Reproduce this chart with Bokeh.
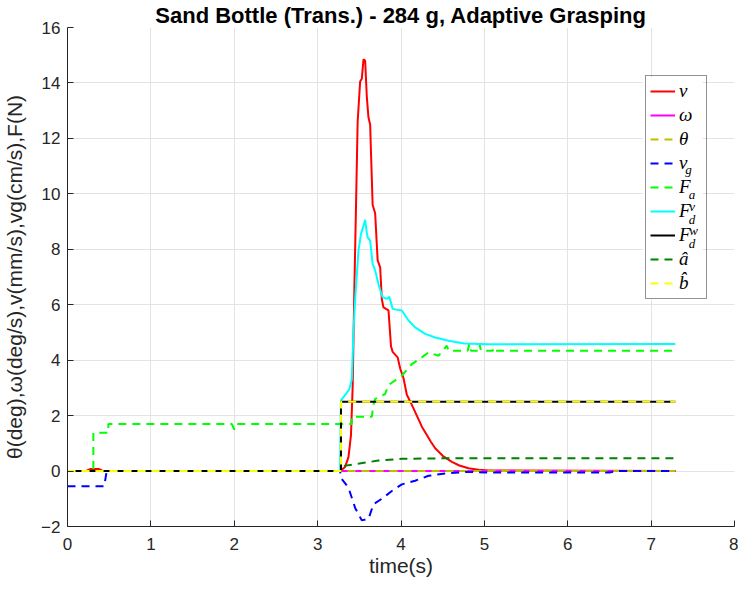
from bokeh.plotting import figure
from bokeh.models import Range1d, Legend, LegendItem, Label, BoxAnnotation
from bokeh.embed import file_html
from bokeh.resources import INLINE

# ---------------- data ----------------
t_v = [0, 0.22, 0.27, 0.38, 0.43, 3.27, 3.33, 3.37, 3.40, 3.42, 3.44, 3.46, 3.48,
       3.51, 3.53, 3.55, 3.57, 3.59, 3.61, 3.63, 3.64, 3.66, 3.69, 3.72, 3.75,
       3.77, 3.79, 3.85, 3.88, 3.90, 3.96, 3.99, 4.03, 4.07, 4.12, 4.19, 4.25,
       4.31, 4.36, 4.41, 4.50, 4.61, 4.70, 4.81, 4.93, 5.05, 7.29]
v = [0, 0, 0.07, 0.07, 0, 0, 0.15, 0.5, 1.3, 3.0, 6.5, 9.5, 12.6,
     14.05, 14.15, 14.85, 14.8, 13.5, 12.75, 12.5, 11.5, 9.6, 9.3, 7.6, 7.35,
     6.2, 5.9, 5.8, 4.5, 4.3, 4.1, 3.7, 3.35, 2.75, 2.45, 2.0, 1.6,
     1.3, 1.05, 0.82, 0.55, 0.33, 0.2, 0.1, 0.05, 0.02, 0]

t_w = [0, 7.29]
w = [0, 0]

t_theta = [0, 7.29]
theta = [0, 0]

t_vg = [0, 0.44, 0.47, 3.27, 3.28, 3.37, 3.45, 3.53, 3.61, 3.67, 3.77, 3.89,
        4.01, 4.17, 4.33, 4.53, 4.80, 5.00, 6.50, 6.60, 7.29]
vg = [-0.55, -0.55, 0, 0, -0.25, -0.6, -1.33, -1.78, -1.72, -1.2, -1.0, -0.72,
      -0.48, -0.35, -0.17, -0.09, -0.03, -0.05, -0.05, 0, 0]

t_fa = [0, 0.31, 0.31, 0.49, 0.49, 1.97, 2.00, 2.03, 3.41, 3.41, 3.65, 3.67,
        3.69, 3.81, 3.85, 4.01, 4.13, 4.25, 4.33, 4.45, 4.55, 4.57, 4.80, 4.82,
        4.84, 4.92, 4.94, 4.96, 5.10, 5.12, 5.14, 7.29]
fa = [0, 0, 1.38, 1.38, 1.70, 1.70, 1.5, 1.70, 1.70, 1.96, 1.96, 2.4,
      2.6, 2.78, 3.1, 3.44, 3.86, 4.1, 4.28, 4.16, 4.52, 4.34, 4.34, 4.6,
      4.34, 4.34, 4.6, 4.34, 4.34, 4.46, 4.34, 4.34]

t_fdv = [0, 3.27, 3.28, 3.33, 3.38, 3.41, 3.43, 3.45, 3.49, 3.52, 3.55, 3.57,
         3.59, 3.60, 3.63, 3.66, 3.69, 3.74, 3.78, 3.83, 3.86, 3.90, 3.97, 4.01,
         4.09, 4.17, 4.29, 4.41, 4.57, 4.76, 5.04, 7.29]
fdv = [0, 0, 2.55, 2.75, 2.95, 3.3, 5.0, 6.2, 7.95, 8.55, 8.85, 9.06,
       8.6, 8.43, 8.31, 7.47, 7.23, 6.63, 6.27, 6.21, 6.29, 5.85, 5.81, 5.79,
       5.43, 5.18, 4.95, 4.82, 4.7, 4.6, 4.57, 4.58]

t_fdw = [0, 3.28, 3.28, 7.29]
fdw = [0, 0, 2.5, 2.5]

t_ahat = [0, 3.28, 3.30, 3.50, 3.73, 4.01, 4.50, 7.29]
ahat = [0, 0, 0.18, 0.27, 0.38, 0.44, 0.46, 0.46]

t_bhat = [0, 3.28, 3.28, 7.29]
bhat = [0, 0, 2.5, 2.5]

x_ticks = [0, 1, 2, 3, 4, 5, 6, 7, 8]
y_ticks = [-2, 0, 2, 4, 6, 8, 10, 12, 14, 16]

# ---------------- figure ----------------
W, H = 738, 591
FL, FR, FT, FB = 64, 734, 27, 526   # frame edges (pixels)

p = figure(width=W, height=H, x_range=Range1d(0, 8), y_range=Range1d(-2, 16),
           output_backend="svg", toolbar_location=None,
           min_border_left=FL, min_border_right=W - FR,
           min_border_top=FT, min_border_bottom=H - FB)
p.outline_line_color = None
p.background_fill_color = "white"
p.border_fill_color = "white"

p.title.text = "Sand Bottle (Trans.) - 284 g, Adaptive Grasping"
p.title.align = "center"
p.title.text_font = "Liberation Sans"
p.title.text_font_style = "bold"
p.title.text_font_size = "22px"
p.title.text_color = "black"
p.title.standoff = 0

TICK_COLOR = "#262626"
for ax in (p.xaxis[0], p.yaxis[0]):
    ax.major_tick_in = 6
    ax.major_tick_out = 0
    ax.minor_tick_in = 0
    ax.minor_tick_out = 0
    ax.axis_line_color = TICK_COLOR
    ax.major_tick_line_color = TICK_COLOR
    ax.major_label_text_color = TICK_COLOR
    ax.major_label_text_font = "Liberation Sans"
    ax.major_label_text_font_size = "17px"
    ax.axis_label_text_font = "Liberation Sans"
    ax.axis_label_text_font_size = "21px"
    ax.axis_label_text_font_style = "normal"
    ax.axis_label_text_color = TICK_COLOR

p.xaxis.ticker = x_ticks
p.yaxis.ticker = y_ticks
p.xaxis.axis_label = "time(s)"
p.yaxis.axis_label = "θ(deg),ω(deg/s),v(mm/s),vg(cm/s),F(N)"
p.xaxis.major_label_standoff = 11
p.xaxis.axis_label_standoff = 1
p.yaxis.major_label_standoff = 7
p.yaxis.axis_label_standoff = 12

p.xgrid.grid_line_color = "#e3e3e3"
p.ygrid.grid_line_color = "#e3e3e3"
p.xgrid.ticker = x_ticks
p.ygrid.ticker = y_ticks

LW = 2
DASH = "8 6"
r_v = p.line(t_v, v, line_color="#FF0000", line_width=LW)
r_w = p.line(t_w, w, line_color="#FF00FF", line_width=LW)
r_th = p.line(t_theta, theta, line_color="#BFBF00", line_width=LW, line_dash=DASH)
r_vg = p.line(t_vg, vg, line_color="#0000FF", line_width=LW, line_dash=DASH)
r_fa = p.line(t_fa, fa, line_color="#00FF00", line_width=LW, line_dash=DASH)
r_fdv = p.line(t_fdv, fdv, line_color="#00FFFF", line_width=LW)
r_fdw = p.line(t_fdw, fdw, line_color="#000000", line_width=LW)
r_ah = p.line(t_ahat, ahat, line_color="#008000", line_width=LW, line_dash=DASH)
r_bh = p.line(t_bhat, bhat, line_color="#FFFF00", line_width=LW, line_dash=DASH)

# ---------------- legend ----------------
LEG_FONT = "Liberation Serif"
LEG_SIZE = 19
PAD, ITEM_H, SPACING, GLYPH_W, STANDOFF, LABEL_W = 4, 22, 2, 25, 4, 23
N_ITEMS = 9
leg_h = 2 * PAD + N_ITEMS * ITEM_H + (N_ITEMS - 1) * SPACING
leg_w = 2 * PAD + GLYPH_W + STANDOFF + LABEL_W
leg_left_px, leg_top_px = 642, 77


def dx(px):
    return (px - FL) / (FR - FL) * 8


def dy(py):
    return 16 - (py - FT) / (FB - FT) * 18


# white backing of the legend box (the legend itself is painted transparent so
# that the sub/superscript labels drawn above the backing stay visible)
p.add_layout(BoxAnnotation(left=dx(leg_left_px), right=dx(leg_left_px + leg_w),
                           top=dy(leg_top_px), bottom=dy(leg_top_px + leg_h),
                           fill_color="white", fill_alpha=1.0, line_color=None,
                           level="annotation"))

items = [("v", r_v), ("ω", r_w), ("θ", r_th), ("v", r_vg), ("F", r_fa),
         ("F", r_fdv), ("F", r_fdw), ("â", r_ah), ("b\u0302", r_bh)]
legend = Legend(items=[LegendItem(label=s, renderers=[r]) for s, r in items],
                location=(leg_left_px - FL, FB - leg_top_px - leg_h),
                padding=PAD, spacing=SPACING, margin=0,
                glyph_width=GLYPH_W, glyph_height=ITEM_H,
                label_height=ITEM_H, label_width=LABEL_W,
                label_standoff=STANDOFF,
                label_text_font=LEG_FONT, label_text_font_style="italic",
                label_text_font_size=f"{LEG_SIZE}px", label_text_color="black",
                border_line_color=TICK_COLOR, border_line_width=1,
                background_fill_alpha=0.0)
p.add_layout(legend, "center")

label_x0 = leg_left_px + PAD + GLYPH_W + STANDOFF
scripts = [  # (item index, char offset px, text, vertical shift px)
    (3, 9.5, "g", 5),
    (4, 13.0, "a", 6),
    (5, 13.0, "d", 7),
    (5, 13.5, "v", -6),
    (6, 13.0, "d", 7),
    (6, 13.5, "w", -6),
]
for idx, off, txt, shift in scripts:
    cy = leg_top_px + PAD + idx * (ITEM_H + SPACING) + ITEM_H / 2
    p.add_layout(Label(x=dx(label_x0 + off), y=dy(cy + shift), text=txt,
                       text_font=LEG_FONT, text_font_style="italic",
                       text_font_size="13px", text_color="black",
                       text_baseline="middle", text_align="left",
                       level="overlay"))

open("out.html", "w").write(file_html(p, INLINE))
